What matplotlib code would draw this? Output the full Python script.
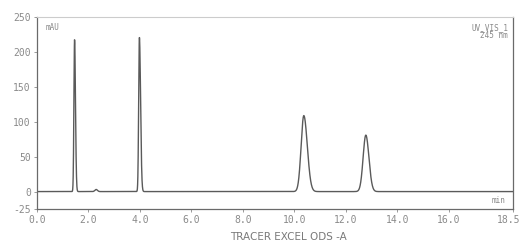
import numpy as np
import matplotlib
matplotlib.use('Agg')
import matplotlib.pyplot as plt
from matplotlib.transforms import ScaledTranslation

# Peak table (retention time in min, height in mAU)
peak_rt = [1.46, 2.30, 3.98, 10.37, 12.78]
peak_height = [218.0, 3.0, 221.0, 109.0, 81.0]
peak_sigma_left = [0.025, 0.05, 0.028, 0.105, 0.105]
peak_sigma_right = [0.035, 0.05, 0.045, 0.135, 0.12]

x_ticks = [0.0, 2.0, 4.0, 6.0, 8.0, 10.0, 12.0, 14.0, 16.0, 18.5]
y_ticks = [-25, 0, 50, 100, 150, 200, 250]

# Build the trace from the peak table
t = np.linspace(0, 18.5, 6000)
signal = np.zeros_like(t)
for rt, h, sl, sr in zip(peak_rt, peak_height, peak_sigma_left, peak_sigma_right):
    s = np.where(t < rt, sl, sr)
    signal += h * np.exp(-0.5 * ((t - rt) / s) ** 2)

text_col = '#8a8a8a'
line_col = '#5a5a5a'

fig = plt.figure(figsize=(5.22, 2.44), dpi=100)
ax = fig.add_axes([37 / 522, 1 - 209 / 244, (513 - 37) / 522, (209 - 17.3) / 244])

ax.plot(t, signal, color=line_col, lw=1.0)

ax.set_xlim(0, 18.5)
ax.set_ylim(-25, 250)
ax.set_xticks(x_ticks)
ax.set_xticklabels(['%.1f' % v for v in x_ticks])
ax.set_yticks(y_ticks)
ax.set_yticklabels([str(v) for v in y_ticks])
ax.tick_params(colors=text_col, labelsize=7, length=2.5, width=0.6, pad=2)
for lab in ax.get_xticklabels() + ax.get_yticklabels():
    lab.set_family('DejaVu Sans Mono')

# keep the last x label inside the figure
last = ax.get_xticklabels()[-1]
last.set_transform(last.get_transform() + ScaledTranslation(-4 / 100, 0, fig.dpi_scale_trans))

for side in ['left', 'bottom', 'right']:
    ax.spines[side].set_color('#6a6a6a')
    ax.spines[side].set_linewidth(0.9)
ax.spines['top'].set_color('#cccccc')
ax.spines['top'].set_linewidth(0.8)

ax.text(0.018, 0.97, 'mAU', transform=ax.transAxes, fontsize=5.5, color=text_col,
        family='DejaVu Sans Mono', va='top', ha='left')
ax.text(0.99, 0.97, 'UV_VIS_1\n245 nm', transform=ax.transAxes, fontsize=5.5, color=text_col,
        family='DejaVu Sans Mono', va='top', ha='right', linespacing=0.9)
ax.text(0.985, 0.02, 'min', transform=ax.transAxes, fontsize=5.5, color=text_col,
        family='DejaVu Sans Mono', va='bottom', ha='right')

fig.text(288 / 522, 1 - 237 / 244, 'TRACER EXCEL ODS -A', fontsize=7.5, color='#7a7a7a',
         ha='center', va='center')

fig.savefig('out.png', dpi=100, facecolor='white')
